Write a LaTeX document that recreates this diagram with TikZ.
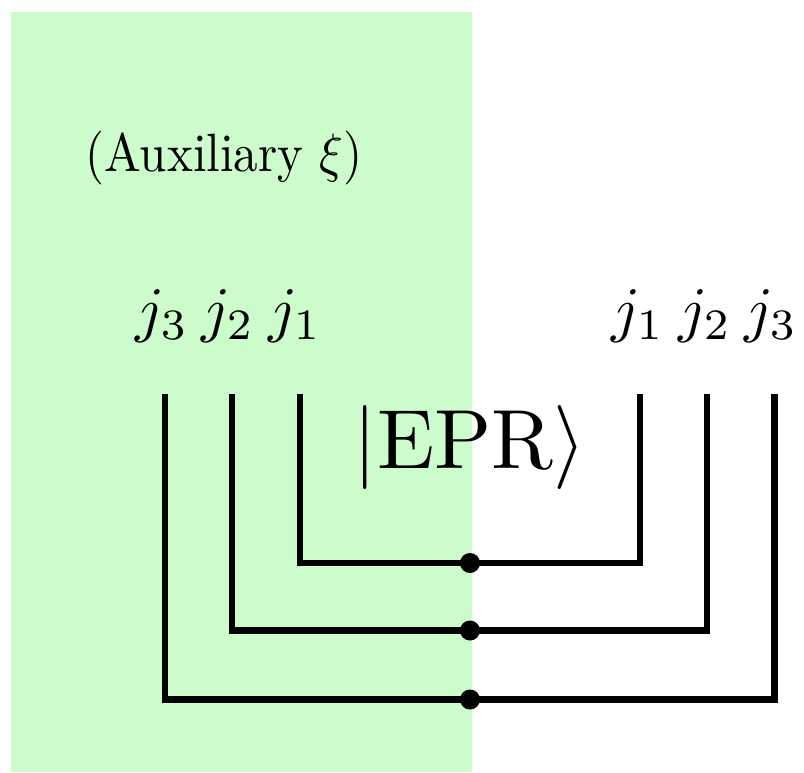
\documentclass[tikz,border=0pt]{standalone}
\definecolor{auxgreen}{RGB}{204,252,204}
\tikzset{
  wire/.style={line width=6.5pt, line join=miter},
  junction/.style={circle, fill=black, inner sep=0pt, minimum size=20pt},
  leg/.style={inner sep=0pt, scale=6.2},
  bigket/.style={inner sep=0pt, scale=8.4}
}
\begin{document}
\begin{tikzpicture}[x=1pt, y=-1pt]
  \useasboundingbox (0,0) rectangle (804,772);
  % auxiliary region
  \fill[auxgreen] (10.5,11.5) rectangle (472,772);

  \node[inner sep=0pt, xscale=4.9, yscale=5.4] (aux) at (224,158) {(Auxiliary $\xi$)};

  % leg labels
  \node[leg] (l3) at (162,316) {$j_3$};
  \node[leg] (l2) at (228,316) {$j_2$};
  \node[leg] (l1) at (295,316) {$j_1$};
  \node[leg] (r1) at (638,316) {$j_1$};
  \node[leg] (r2) at (705,316) {$j_2$};
  \node[leg] (r3) at (771,316) {$j_3$};

  \node[bigket] (epr) at (470,447) {$|\mathrm{EPR}\rangle$};

  % leg tops
  \coordinate (a3) at (165,394);
  \coordinate (a2) at (232,394);
  \coordinate (a1) at (300,394);
  \coordinate (b1) at (640,394);
  \coordinate (b2) at (707,394);
  \coordinate (b3) at (774.5,394);

  % EPR junction points
  \coordinate (c1) at (470,563);
  \coordinate (c2) at (470,630.5);
  \coordinate (c3) at (470,699.5);

  \draw[wire] (a1) |- (c1) -| (b1);
  \draw[wire] (a2) |- (c2) -| (b2);
  \draw[wire] (a3) |- (c3) -| (b3);

  \node[junction] (d1) at (c1) {};
  \node[junction] (d2) at (c2) {};
  \node[junction] (d3) at (c3) {};
\end{tikzpicture}
\end{document}
